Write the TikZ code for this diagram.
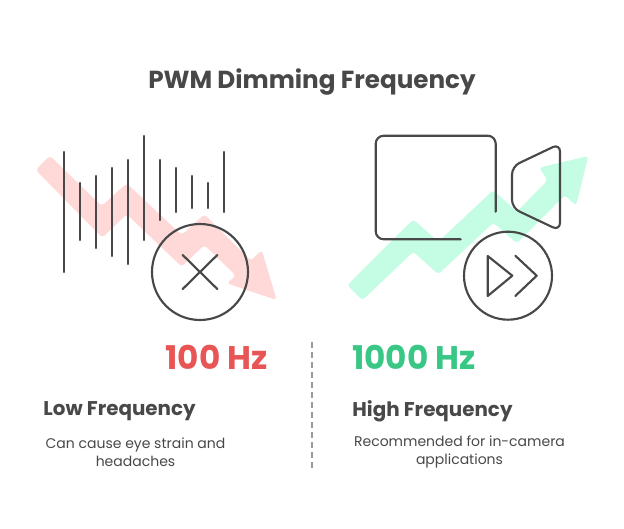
\documentclass[tikz,border=0pt]{standalone}
\usepackage{fontspec}
\setmainfont{Poppins}
\usetikzlibrary{arrows,shapes,backgrounds}
\definecolor{inkgray}{HTML}{484848}
\definecolor{redtext}{HTML}{E85555}
\definecolor{greentext}{HTML}{38C785}
\definecolor{redband}{HTML}{FFD8D8}
\definecolor{greenband}{HTML}{C4FCE4}
\begin{document}
\begin{tikzpicture}[x=0.75pt,y=-0.75pt,semithick]
        \tikzstyle{every node}=[text=inkgray, inner sep=0pt]
        \tikzstyle{ink}=[draw=inkgray, line width=1.6pt, line cap=round, line join=round]
        \tikzstyle{badge}=[circle, draw=inkgray, line width=1.6pt]
        \tikzstyle{head}=[font=\fontsize{14.9}{18}\selectfont\bfseries]
        \tikzstyle{freq}=[font=\fontsize{24.5}{28}\selectfont\bfseries]
        \tikzstyle{body}=[font=\fontsize{10.5}{13.5}\selectfont, align=center]

        \useasboundingbox (0,0) rectangle (624,528);

        % falling and rising bands
        \fill[redband, rounded corners=2.5] (50,155.7) -- (35.7,170) -- (102.3,237.7) -- (126.7,214.3) -- (181.7,266.7) -- (204.3,245) -- (236,275.7) -- (226.7,283.3) -- (276.7,300) -- (261.7,250) -- (250.8,260.8) -- (204.3,214.3) -- (181.7,235) -- (126.7,183.3) -- (101.7,206) -- cycle;
        \fill[greenband, rounded corners=2.5] (347.3,285) -- (362.3,300.3) -- (413.3,251.7) -- (438.3,274.3) -- (493.3,222.7) -- (516.7,243.3) -- (564.8,195.2) -- (576,205.7) -- (588.3,156) -- (539,167.7) -- (547.7,180.3) -- (516.7,211.7) -- (493.3,190) -- (438.3,241.7) -- (413.3,219.3) -- cycle;

        % flicker bars
        \foreach \x/\ya/\yb in {64/152/272, 80/183/240, 96/176/248, 112/168/256, 128/160/264, 144/136/240, 160/160/220, 176/168/212, 192/176/208, 208/183/208, 224/152/212}
          \draw[ink] (\x,\ya) -- (\x,\yb);

        \node[badge, minimum size=72pt] (cross) at (200,272) {};
        \draw[ink] (182.7,255) -- (217.3,289);
        \draw[ink] (217.3,255) -- (182.7,289);

        % camera
        \draw[ink, rounded corners=6] (495.7,211.7) -- (495.7,135.7) -- (375.7,135.7) -- (375.7,239.3) -- (460.7,239.3);
        \draw[ink, rounded corners=6] (512,166.5) -- (560,143.7) -- (560,230.7) -- (512,208) -- cycle;

        \node[badge, minimum size=66pt] (play) at (508,275.7) {};
        \draw[ink] (487.7,256) -- (512.3,275.7) -- (487.7,296) -- cycle;
        \draw[ink] (515.3,255.7) -- (536.7,275.7) -- (515.3,296);

        \draw[gray!80, line width=1.5pt, dash pattern=on 4.5pt off 3pt] (312,342) -- (312,468);

        \node[font=\fontsize{18.5}{22}\selectfont\bfseries] (title) at (312,82) {PWM Dimming Frequency};
        \node[freq, text=redtext, anchor=east] (lowhz) at (268,357) {100 Hz};
        \node[freq, text=greentext, anchor=west] (highhz) at (352,357) {1000 Hz};
        \node[head, anchor=west] (lowhead) at (43,411) {Low Frequency};
        \node[head, anchor=west] (highhead) at (352,411) {High Frequency};
        \node[body] (lowbody) at (135.5,452) {Can cause eye strain and\\headaches};
        \node[body] (highbody) at (459.5,452) {Recommended for in-camera\\applications};
      \end{tikzpicture}
\end{document}
